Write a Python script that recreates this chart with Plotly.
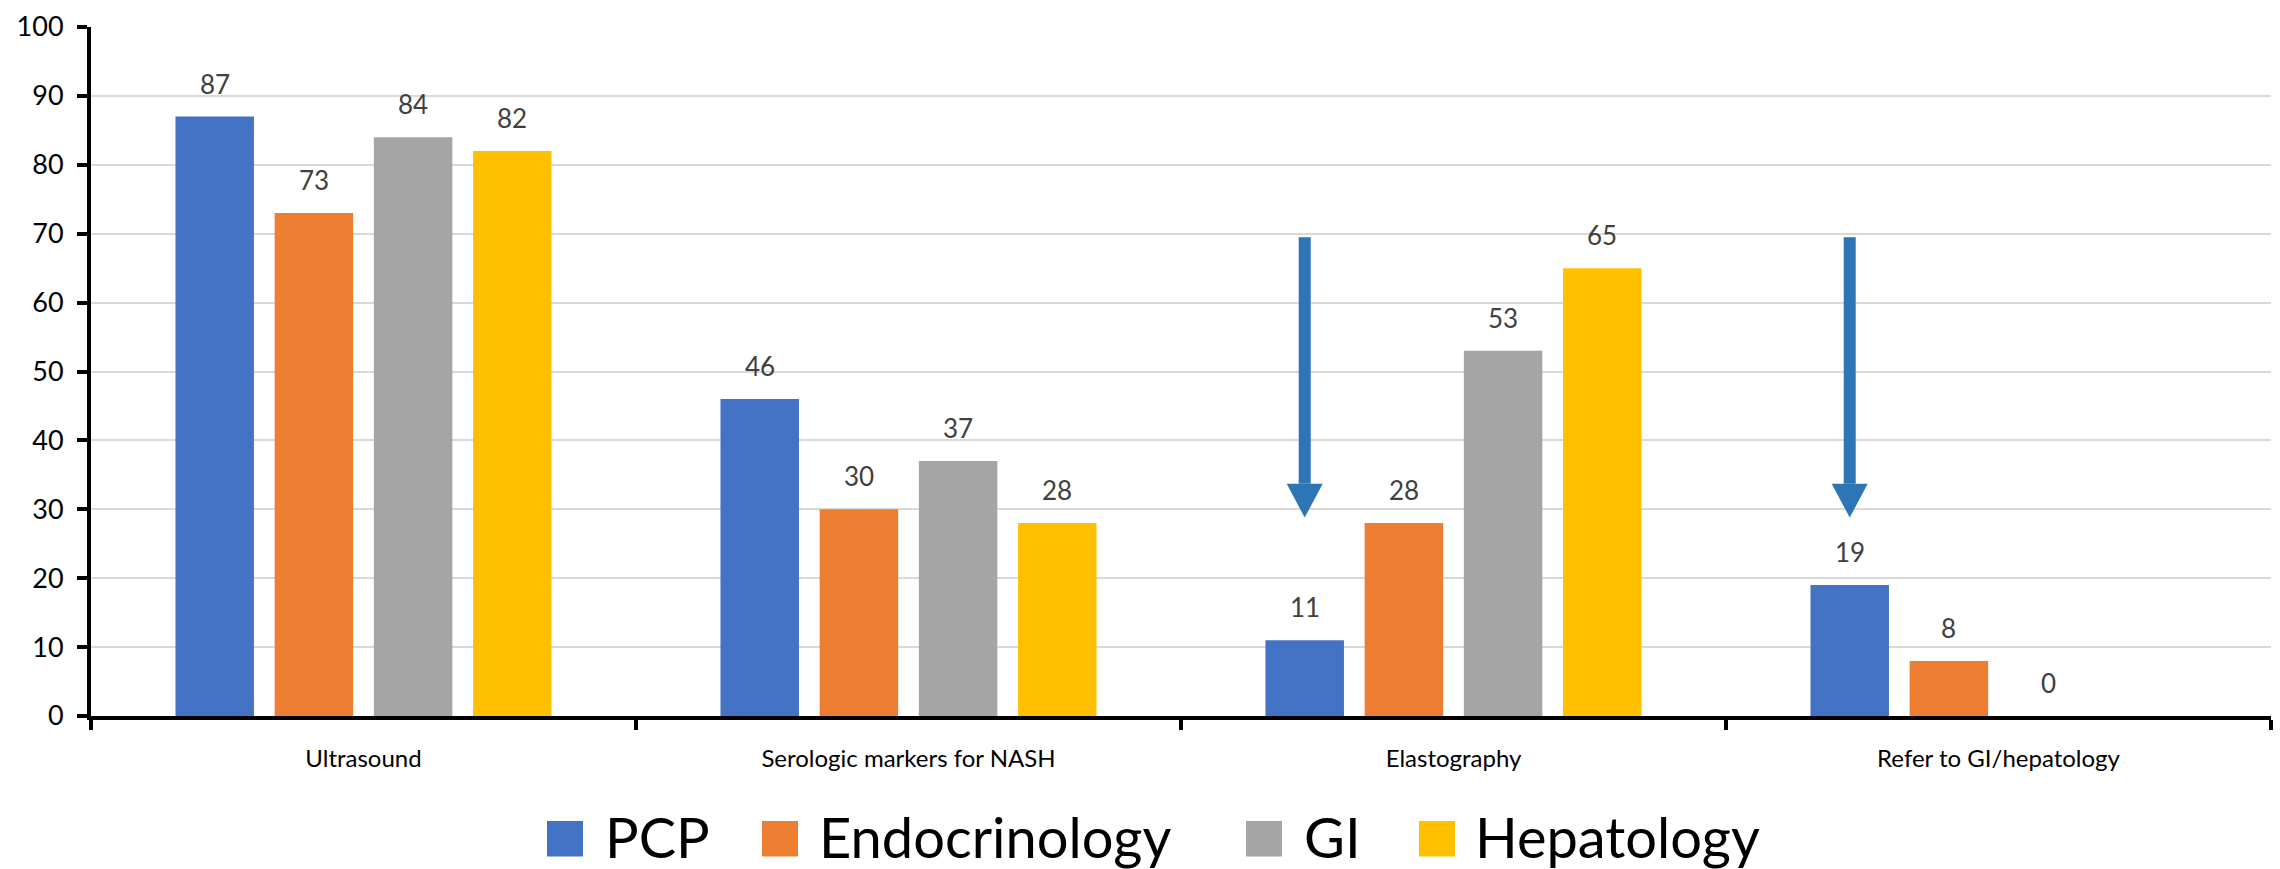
import plotly.graph_objects as go

# ---------------- data ----------------
categories = ["Ultrasound", "Serologic markers for NASH", "Elastography", "Refer to GI/hepatology"]
series_names = ["PCP", "Endocrinology", "GI", "Hepatology"]
pcp = [87, 46, 11, 19]
endocrinology = [73, 30, 28, 8]
gi = [84, 37, 53, 0]
hepatology = [82, 28, 65, None]
arrow_categories = ["Elastography", "Refer to GI/hepatology"]
y_ticks = [0, 10, 20, 30, 40, 50, 60, 70, 80, 90, 100]

# ---------------- style ----------------
colors = ["#4472C4", "#ED7D31", "#A5A5A5", "#FFC000"]
arrow_color = "#2E75B6"
FONT = "Lato"
W, H = 2280, 869
M_L, M_R, M_T, M_B = 91, 9, 20, 153
PW = W - M_L - M_R
PH = H - M_T - M_B

SLOT = 0.182      # per-bar slot in category units
BAR_W = 0.144     # bar width in category units
ARROW_TOP, ARROW_HEAD_BASE, ARROW_TIP = 69.5, 33.7, 28.8
HEAD_HALF = 18.0 * 4 / PW  # category units

series = [pcp, endocrinology, gi, hepatology]
x_idx = list(range(len(categories)))

fig = go.Figure()
annotations = []
shapes = []

for i, (name, vals, col) in enumerate(zip(series_names, series, colors)):
    off = (i - 1.5) * SLOT
    fig.add_trace(go.Bar(
        x=x_idx, y=vals, name=name, width=BAR_W, offset=off - BAR_W / 2,
        marker=dict(color=col, line=dict(width=0)), showlegend=False,
    ))
    for xi, v in zip(x_idx, vals):
        if v is None:
            continue
        annotations.append(dict(
            x=xi + off, y=v, xref="x", yref="y", text=str(v), showarrow=False,
            yanchor="middle", xanchor="center", yshift=33,
            font=dict(family=FONT, size=26, color="#404040"),
        ))

# arrows above PCP bars
for cat in arrow_categories:
    xc = categories.index(cat) + (0 - 1.5) * SLOT
    shapes.append(dict(type="line", xref="x", yref="y", x0=xc, x1=xc,
                       y0=ARROW_TOP, y1=ARROW_HEAD_BASE,
                       line=dict(color=arrow_color, width=12)))
    shapes.append(dict(type="path", xref="x", yref="y",
                       path=f"M {xc - HEAD_HALF},{ARROW_HEAD_BASE} L {xc + HEAD_HALF},{ARROW_HEAD_BASE} L {xc},{ARROW_TIP} Z",
                       fillcolor=arrow_color, line=dict(width=0)))

# manual legend (large square swatches)
legend_box_px = [547, 762, 1246, 1419]
legend_text_px = [603, 817, 1302, 1473]
box_top_px, box_bot_px, text_mid_px = 822, 858, 838


def px_to_paper_x(px):
    return (px - M_L) / PW


def py_to_paper_y(py):
    return (H - M_B - py) / PH


for name, col, bx, tx in zip(series_names, colors, legend_box_px, legend_text_px):
    shapes.append(dict(type="rect", xref="paper", yref="paper",
                       x0=px_to_paper_x(bx), x1=px_to_paper_x(bx + 36),
                       y0=py_to_paper_y(box_bot_px), y1=py_to_paper_y(box_top_px),
                       fillcolor=col, line=dict(width=0)))
    annotations.append(dict(x=px_to_paper_x(tx), y=py_to_paper_y(text_mid_px),
                            xref="paper", yref="paper", text=name, showarrow=False,
                            xanchor="left", yanchor="middle",
                            font=dict(family=FONT, size=56, color="#000000")))

fig.update_layout(
    width=W, height=H,
    margin=dict(l=M_L, r=M_R, t=M_T, b=M_B, pad=0),
    paper_bgcolor="white", plot_bgcolor="white",
    barmode="group",
    font=dict(family=FONT, color="#000000"),
    annotations=annotations, shapes=shapes,
    xaxis=dict(
        range=[-0.5, 3.5], tickmode="array", tickvals=x_idx, ticktext=categories,
        ticks="", showgrid=False, zeroline=False,
        showline=True, linecolor="#000000", linewidth=4,
        tickfont=dict(family=FONT, size=24, color="#000000"),
        ticklabelstandoff=18,
        minor=dict(tickmode="array", tickvals=[-0.5, 0.5, 1.5, 2.5, 3.5],
                   ticks="outside", ticklen=10, tickwidth=4, tickcolor="#000000",
                   showgrid=False),
    ),
    yaxis=dict(
        range=[0, 100], tickmode="array", tickvals=y_ticks,
        ticks="outside", ticklen=10, tickwidth=4, tickcolor="#000000",
        showline=True, linecolor="#000000", linewidth=4,
        showgrid=True, gridcolor="#D9D9D9", gridwidth=2, zeroline=False,
        tickfont=dict(family=FONT, size=27, color="#000000"),
        ticklabelstandoff=8,
    ),
)

fig.write_html(
    "out.html",
    config={"displayModeBar": False},
    post_script="document.body.style.margin='0';document.body.style.overflow='hidden';",
)
